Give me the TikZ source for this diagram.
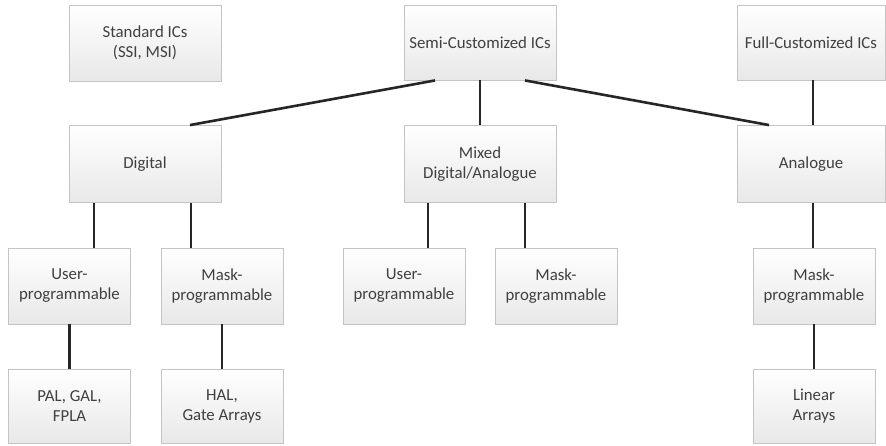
\documentclass[tikz,border=0pt]{standalone}
\usepackage{fontspec}
\setmainfont{Carlito}
\definecolor{txt}{HTML}{404040}
\definecolor{bord}{HTML}{C4C4C4}
\definecolor{ln}{HTML}{262626}
\tikzset{
  box/.style={draw=bord, line width=0.9pt, top color=white, bottom color=black!9,
    text=txt, align=center, inner sep=0pt, font=\fontsize{16.8}{20}\selectfont,
    minimum width=152pt, minimum height=76pt},
  sbox/.style={box, minimum width=122pt},
  conn/.style={draw=ln, line width=2.6pt}
}
\begin{document}
\begin{tikzpicture}[x=1pt,y=-1pt]
\useasboundingbox (0,0) rectangle (886,445);
\node[box] (std) at (145,43) {Standard ICs\\(SSI, MSI)};
\node[box, minimum height=75pt] (semi) at (480,42.5) {Semi-Customized ICs};
\node[box, minimum width=148pt, minimum height=75pt] (full) at (811,42.5) {Full-Customized ICs};
\node[box, minimum height=77pt] (dig) at (145,164) {Digital};
\node[box, minimum height=77pt] (mix) at (480,164) {Mixed\\Digital/Analogue};
\node[box, minimum width=148pt, minimum height=77pt] (ana) at (811,164) {Analogue};
\node[sbox] (u1) at (69.5,286) {User-\\programmable};
\node[sbox] (m1) at (222,286) {Mask-\\programmable};
\node[sbox] (u2) at (404,286) {User-\\programmable};
\node[sbox] (m2) at (556,286) {Mask-\\programmable};
\node[sbox] (m3) at (814,286) {Mask-\\programmable};
\node[sbox, minimum height=74pt] (pal) at (69.5,406) {PAL, GAL,\\FPLA};
\node[sbox, minimum height=74pt] (hal) at (222,406) {HAL,\\Gate Arrays};
\node[sbox, minimum height=74pt] (lin) at (814,406) {Linear\\Arrays};
\draw[conn] ([xshift=-45pt]semi.south) -- ([xshift=45pt]dig.north);
\draw[conn] (semi.south) -- (mix.north);
\draw[conn] ([xshift=45pt]semi.south) -- ([xshift=-42pt]ana.north);
\draw[conn] ([xshift=2pt]full.south) -- ([xshift=2pt]ana.north);
\draw[conn] ([xshift=-51pt]dig.south) -- ([xshift=-51pt]dig.south |- u1.north);
\draw[conn] ([xshift=46pt]dig.south) -- ([xshift=46pt]dig.south |- m1.north);
\draw[conn] ([xshift=-52pt]mix.south) -- ([xshift=-52pt]mix.south |- u2.north);
\draw[conn] ([xshift=45pt]mix.south) -- ([xshift=45pt]mix.south |- m2.north);
\draw[conn] ([xshift=2pt]ana.south) -- ([xshift=2pt]ana.south |- m3.north);
\draw[conn] (u1.south) -- (pal.north);
\draw[conn] (m1.south) -- (hal.north);
\draw[conn] (m3.south) -- (lin.north);
\end{tikzpicture}
\end{document}
